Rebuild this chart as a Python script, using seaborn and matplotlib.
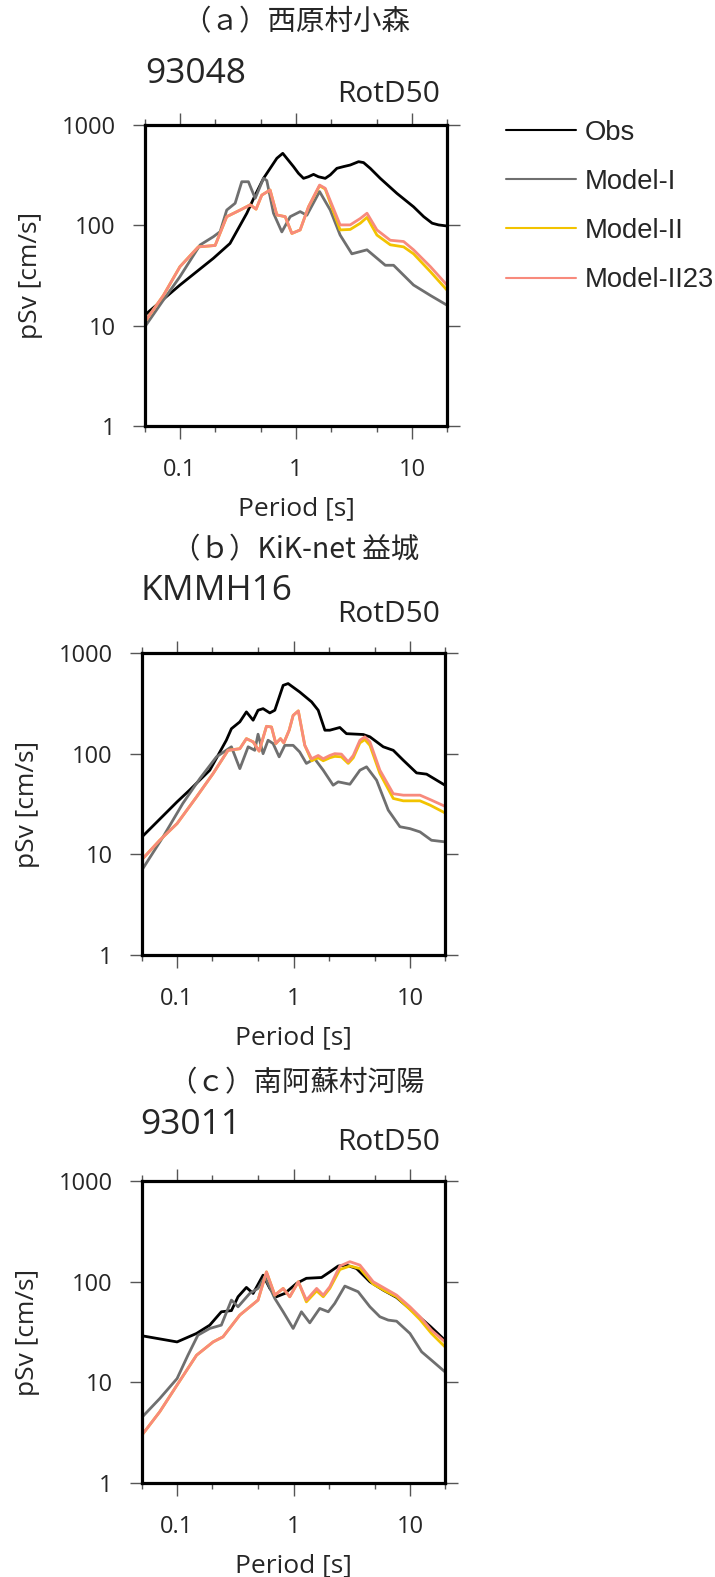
import matplotlib
matplotlib.use("Agg")
import matplotlib.pyplot as plt
from matplotlib.ticker import FixedLocator, NullLocator, FuncFormatter
import pandas as pd
import seaborn as sns

# ---------------- data: pseudo velocity response spectra (h=5%) ----------------
models = ["Obs", "Model-I", "Model-II", "Model-II23"]
colors = {"Obs": "#000000", "Model-I": "#6f6f6f",
          "Model-II": "#f2c300", "Model-II23": "#f88a7c"}

# (a) 93048
a_obs_T = [0.05, 0.1, 0.194, 0.27, 0.377, 0.445, 0.525, 0.684, 0.769, 0.951, 1.05,
           1.161, 1.28, 1.416, 1.56, 1.786, 1.973, 2.25, 2.57, 2.93, 3.46, 3.82,
           4.36, 5.32, 7.41, 10.3, 12.6, 14.9, 16.9, 20]
a_obs = [12.8, 25.4, 46.9, 66, 132, 200, 294, 466, 522, 385, 330,
         294, 305, 322, 305, 294, 318, 370, 385, 399, 431, 422,
         370, 294, 208, 153, 122, 105, 101, 98.5]
a_m1_T = [0.05, 0.072, 0.1, 0.149, 0.194, 0.222, 0.253, 0.299, 0.341, 0.389, 0.445,
          0.525, 0.56, 0.64, 0.755, 0.891, 1.086, 1.24, 1.596, 1.973, 2.40, 3.03,
          4.09, 5.88, 6.93, 10.3, 14.4, 20]
a_m1 = [9.8, 18, 30.8, 63.7, 77, 86.5, 142, 166, 272, 272, 186,
        294, 280, 132, 86, 122, 137, 126, 217, 142, 80, 52,
        57, 40, 40, 25.4, 20, 16]
a_m2_T = [0.05, 0.072, 0.1, 0.144, 0.201, 0.253, 0.33, 0.403, 0.453, 0.507, 0.598,
          0.684, 0.807, 0.921, 1.086, 1.282, 1.596, 1.786, 2.40, 2.93, 3.58, 4.09,
          4.98, 6.49, 8.46, 10.3, 14.4, 20]
a_m2 = [11, 20, 38.7, 61, 63, 122, 142, 160, 145, 200, 225,
        127, 122, 83, 90, 153, 248, 230, 90, 91, 105, 120,
        80, 64, 61, 52, 34.5, 22.6]
a_m23_T = [0.05, 0.072, 0.1, 0.144, 0.201, 0.253, 0.33, 0.403, 0.453, 0.507, 0.598,
           0.684, 0.807, 0.921, 1.086, 1.282, 1.596, 1.786, 2.40, 2.93, 3.58, 4.09,
           4.98, 6.49, 8.46, 10.3, 14.4, 20]
a_m23 = [11, 20, 38.7, 61, 63, 122, 142, 160, 145, 200, 225,
         127, 122, 83, 90, 153, 252, 234, 101, 101, 117, 132,
         90, 71, 69, 57, 38.7, 25.4]

# (b) KMMH16
b_obs_T = [0.05, 0.1, 0.128, 0.191, 0.265, 0.293, 0.346, 0.394, 0.45, 0.496, 0.548,
           0.626, 0.691, 0.815, 0.899, 1.13, 1.43, 1.63, 1.86, 2.05, 2.50, 2.85,
           3.97, 4.53, 5.90, 7.19, 8.77, 11.4, 13.9, 20]
b_obs = [14.9, 33.2, 43.4, 68.5, 136, 177, 207, 260, 215, 270, 280,
         254, 270, 477, 497, 410, 327, 270, 171, 171, 182, 158,
         155, 147, 117, 108, 86, 64.4, 62.6, 48.6]
b_m1_T = [0.05, 0.0758, 0.112, 0.157, 0.218, 0.293, 0.346, 0.408, 0.465, 0.496, 0.548,
          0.605, 0.668, 0.753, 0.842, 0.993, 1.13, 1.29, 1.52, 1.80, 2.19, 2.42,
          3.05, 3.72, 4.24, 5.17, 6.51, 8.20, 10.0, 12.2, 15.3, 20]
b_m1 = [7.0, 14.9, 32, 56.6, 93, 117, 71, 117, 108, 156, 100,
        136, 126, 93, 121, 121, 104, 80, 89, 68.5, 48.6, 52.5,
        49.7, 68.5, 74, 54.5, 27.5, 18.8, 18, 16.7, 13.8, 13.3]
b_m2_T = [0.05, 0.071, 0.1, 0.147, 0.204, 0.274, 0.346, 0.394, 0.45, 0.507, 0.586,
          0.647, 0.705, 0.773, 0.826, 0.918, 0.993, 1.10, 1.25, 1.43, 1.63, 1.80,
          2.05, 2.26, 2.58, 2.95, 3.26, 3.72, 4.10, 4.53, 5.52, 7.19, 8.77, 12.2,
          14.9, 20]
b_m2 = [8.9, 13.8, 20.2, 37.2, 63.5, 108, 112, 141, 131, 106, 187,
        184, 126, 141, 128, 171, 240, 266, 121, 85, 91, 85,
        91, 94, 93, 80, 91, 128, 138, 121, 63.5, 35.9, 34, 34,
        30.8, 25.8]
b_m23_T = [0.05, 0.071, 0.1, 0.147, 0.204, 0.274, 0.346, 0.394, 0.45, 0.507, 0.586,
           0.647, 0.705, 0.773, 0.826, 0.918, 0.993, 1.10, 1.25, 1.43, 1.63, 1.80,
           2.05, 2.26, 2.58, 2.95, 3.26, 3.72, 4.10, 4.53, 5.52, 7.19, 8.77, 12.2,
           14.9, 20]
b_m23 = [8.9, 13.8, 20.2, 37.2, 63.5, 108, 112, 141, 131, 106, 187,
         184, 126, 141, 128, 171, 240, 266, 121, 89, 96, 89,
         96, 100, 99, 83, 96, 136, 147, 131, 68.5, 40, 38.7, 38.7,
         35, 30]

# (c) 93011
c_obs_T = [0.05, 0.1, 0.147, 0.191, 0.240, 0.293, 0.334, 0.394, 0.45, 0.548, 0.626,
           0.714, 0.842, 1.06, 1.29, 1.74, 2.05, 2.42, 2.85, 3.48, 4.53, 5.90,
           7.68, 10.7, 14.9, 20]
c_obs = [29, 25.2, 30.6, 37, 50.2, 51.6, 70.8, 87.7, 76.4, 116, 85.7,
         70.8, 76.4, 96, 108, 110, 125, 143, 146, 135, 99.8, 82.4,
         69.7, 50.2, 36.1, 26.2]
c_m1_T = [0.05, 0.071, 0.1, 0.124, 0.151, 0.191, 0.240, 0.293, 0.334, 0.421, 0.496,
          0.567, 0.691, 0.815, 0.993, 1.17, 1.38, 1.68, 1.99, 2.26, 2.76, 3.59,
          4.53, 5.52, 6.51, 7.68, 10.0, 12.6, 15.3, 20]
c_m1 = [4.5, 6.9, 10.9, 18.6, 29.4, 34.3, 37, 65.6, 56.3, 76.4, 85.7,
        112, 68.1, 50.2, 34.3, 50.2, 39, 54.2, 50.2, 60.8, 90.4, 79.4,
        56.3, 44.8, 41.5, 40.5, 30.6, 20.1, 16.6, 12.7]
c_m2_T = [0.05, 0.071, 0.1, 0.147, 0.204, 0.248, 0.346, 0.496, 0.586, 0.691, 0.815,
          0.929, 1.10, 1.29, 1.58, 1.80, 2.05, 2.50, 3.05, 3.72, 4.84, 6.30, 7.68,
          10.0, 12.2, 15.3, 20]
c_m2 = [3.0, 5.1, 9.4, 18.6, 25.2, 28.3, 46.6, 65.6, 125, 73.5, 85.7,
        70.8, 99.8, 63, 81, 70.8, 85.7, 132, 143, 135, 94.6, 79.4, 70.8,
        53, 42, 30.6, 22.5]
c_m23_T = [0.05, 0.071, 0.1, 0.147, 0.204, 0.248, 0.346, 0.496, 0.586, 0.691, 0.815,
           0.929, 1.10, 1.29, 1.58, 1.80, 2.05, 2.50, 3.05, 3.72, 4.84, 6.30, 7.68,
           10.0, 12.2, 15.3, 20]
c_m23 = [3.0, 5.1, 9.4, 18.6, 25.2, 28.3, 46.6, 65.6, 125, 73.5, 85.7,
         70.8, 99.8, 65.6, 85.7, 73.5, 89, 143, 158, 146, 99.8, 83.8, 73.5,
         56.3, 44.8, 33, 25.2]

panels = [
    dict(title="（ａ）西原村小森", station="93048",
         series=[(a_obs_T, a_obs), (a_m1_T, a_m1), (a_m2_T, a_m2), (a_m23_T, a_m23)]),
    dict(title="（ｂ）KiK-net 益城", station="KMMH16",
         series=[(b_obs_T, b_obs), (b_m1_T, b_m1), (b_m2_T, b_m2), (b_m23_T, b_m23)]),
    dict(title="（ｃ）南阿蘇村河陽", station="93011",
         series=[(c_obs_T, c_obs), (c_m1_T, c_m1), (c_m2_T, c_m2), (c_m23_T, c_m23)]),
]

x_major = [0.1, 1, 10]
x_minor = [0.05, 0.2, 0.5, 2, 5, 20]
y_major = [1, 10, 100, 1000]

# ---------------- style ----------------
sns.set_theme(style="ticks")
plt.rcParams["font.family"] = ["Open Sans", "Noto Sans CJK JP", "DejaVu Sans"]

W, H = 715, 1577
fig = plt.figure(figsize=(W / 100, H / 100), dpi=100)

# axes boxes in pixels: left, top, right, bottom
boxes = [(145, 125, 447, 426), (142, 653, 445, 955), (142, 1181, 445, 1483)]
title_y = [22, 550, 1083]
station_pos = [(145, 74), (140, 591), (140, 1125)]
rotd_pos = [(440, 94), (440, 614), (440, 1142)]

def fx(x):
    return x / W

def fy(y):
    return 1 - y / H

axes = []
for i, (p, (l, t, r, b)) in enumerate(zip(panels, boxes)):
    ax = fig.add_axes([fx(l), fy(b), (r - l) / W, (b - t) / H])
    axes.append(ax)
    rows = []
    for name, (T, V) in zip(models, p["series"]):
        rows += [{"period": tt, "psv": vv, "model": name} for tt, vv in zip(T, V)]
    df = pd.DataFrame(rows)
    sns.lineplot(data=df, x="period", y="psv", hue="model", hue_order=models,
                 palette=colors, estimator=None, linewidth=2.0, ax=ax,
                 legend=(i == 0))
    ax.set_xscale("log")
    ax.set_yscale("log")
    ax.set_xlim(0.05, 20)
    ax.set_ylim(1, 1000)
    ax.xaxis.set_major_locator(FixedLocator(x_major))
    ax.xaxis.set_minor_locator(FixedLocator(x_minor))
    ax.yaxis.set_major_locator(FixedLocator(y_major))
    ax.yaxis.set_minor_locator(NullLocator())
    fmt = FuncFormatter(lambda v, pos: f"{v:g}")
    ax.xaxis.set_major_formatter(fmt)
    ax.yaxis.set_major_formatter(fmt)
    ax.xaxis.set_minor_formatter(FuncFormatter(lambda v, pos: ""))
    for s in ax.spines.values():
        s.set_visible(True)
        s.set_linewidth(2.3)
        s.set_color("black")
    ax.tick_params(which="both", direction="out", top=True, right=True,
                   color="#555555", width=1.0)
    ax.tick_params(which="major", length=9, labelsize=17, pad=12)
    ax.tick_params(axis="x", which="major", pad=14)
    ax.tick_params(which="minor", length=4.5)
    ax.set_xlabel("Period [s]", fontsize=19)
    ax.set_ylabel("pSv [cm/s]", fontsize=19)
    ax.xaxis.set_label_coords(0.5, -0.232)
    ax.yaxis.set_label_coords(-0.338, 0.5)

    fig.text(fx(296), fy(title_y[i]), p["title"], ha="center", va="center",
             fontsize=20.5, family=["Noto Sans CJK JP", "DejaVu Sans"])
    sx, sy = station_pos[i]
    fig.text(fx(sx), fy(sy), p["station"], ha="left", va="center", fontsize=25.5)
    rx, ry = rotd_pos[i]
    fig.text(fx(rx), fy(ry), "RotD50", ha="right", va="center", fontsize=21.5)

handles, labels = axes[0].get_legend_handles_labels()
axes[0].get_legend().remove()
leg = fig.legend(handles, labels, loc="upper left",
                 bbox_to_anchor=(fx(506), fy(120)), frameon=False,
                 borderpad=0, borderaxespad=0, handlelength=2.55,
                 handletextpad=0.33, labelspacing=0.84,
                 prop={"family": "Liberation Sans", "size": 19.75})
for h in leg.get_lines():
    h.set_linewidth(1.5)

fig.savefig("out.png", dpi=100)
